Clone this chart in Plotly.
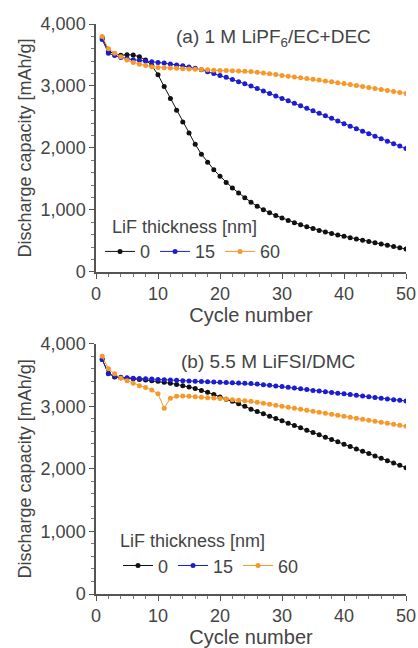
import plotly.graph_objects as go
from plotly.subplots import make_subplots

cycles = list(range(1, 51))
thickness_labels = ["0", "15", "60"]

a_0 = [3780, 3560, 3520, 3495, 3505, 3500, 3470, 3420, 3330, 3180,
       2990, 2800, 2610, 2420, 2240, 2060, 1900, 1770, 1650, 1545,
       1445, 1355, 1275, 1195, 1125, 1060, 1005, 955, 910, 870,
       830, 795, 760, 730, 700, 670, 645, 620, 597, 575,
       552, 530, 510, 490, 470, 450, 430, 410, 390, 370]
a_15 = [3750, 3530, 3490, 3460, 3440, 3425, 3410, 3400, 3390, 3380,
        3370, 3355, 3340, 3325, 3305, 3285, 3260, 3230, 3200, 3170,
        3140, 3105, 3070, 3035, 3000, 2960, 2920, 2880, 2840, 2800,
        2760, 2720, 2680, 2640, 2600, 2560, 2520, 2480, 2435, 2390,
        2350, 2310, 2270, 2230, 2190, 2150, 2110, 2070, 2030, 1990]
a_60 = [3800, 3600, 3530, 3470, 3420, 3380, 3350, 3330, 3310, 3300,
        3295, 3290, 3285, 3280, 3275, 3270, 3265, 3260, 3255, 3250,
        3248, 3245, 3242, 3238, 3235, 3222, 3210, 3197, 3184, 3170,
        3158, 3146, 3134, 3122, 3110, 3096, 3082, 3068, 3054, 3040,
        3024, 3008, 2992, 2976, 2960, 2944, 2928, 2912, 2896, 2880]

b_0 = [3750, 3530, 3470, 3455, 3450, 3440, 3430, 3420, 3410, 3400,
       3385, 3370, 3350, 3330, 3310, 3285, 3255, 3225, 3190, 3150,
       3115, 3080, 3040, 3000, 2955, 2918, 2880, 2843, 2805, 2768,
       2730, 2693, 2656, 2618, 2581, 2544, 2506, 2469, 2432, 2394,
       2357, 2319, 2282, 2245, 2207, 2170, 2132, 2095, 2058, 2020]
b_15 = [3750, 3520, 3480, 3465, 3455, 3450, 3445, 3440, 3435, 3430,
        3425, 3420, 3415, 3410, 3405, 3401, 3397, 3393, 3389, 3385,
        3381, 3377, 3373, 3369, 3365, 3355, 3345, 3335, 3325, 3315,
        3303, 3291, 3279, 3267, 3255, 3244, 3233, 3222, 3211, 3200,
        3188, 3176, 3164, 3152, 3140, 3129, 3118, 3107, 3096, 3085]
b_60 = [3800, 3600, 3520, 3450, 3410, 3370, 3330, 3300, 3260, 3200,
        2970, 3130, 3160, 3165, 3160, 3153, 3146, 3139, 3132, 3125,
        3116, 3107, 3098, 3089, 3080, 3064, 3048, 3032, 3016, 3000,
        2984, 2968, 2952, 2936, 2920, 2904, 2888, 2872, 2856, 2840,
        2824, 2808, 2792, 2776, 2760, 2744, 2728, 2712, 2696, 2680]

colors = ["#111111", "#1c1cd0", "#f7992a"]
FONT = "Liberation Sans, Arial, sans-serif"
GREY = "#444444"
FS = 18

fig = make_subplots(rows=2, cols=1)

for row, series, leg in [(1, [a_0, a_15, a_60], "legend"), (2, [b_0, b_15, b_60], "legend2")]:
    for name, ys, col in zip(thickness_labels, series, colors):
        fig.add_trace(go.Scatter(
            x=cycles, y=ys, name=name, mode="lines+markers",
            line=dict(color=col, width=1),
            marker=dict(color=col, size=5, symbol="circle"),
            legend=leg, showlegend=True,
        ), row=row, col=1)

axis_common = dict(
    showline=True, linecolor="#555555", linewidth=1.5,
    ticks="outside", ticklen=5, tickwidth=1.2, tickcolor="#555555",
    showgrid=False, zeroline=False, automargin=False,
    tickfont=dict(family=FONT, size=FS, color=GREY),
)
for r in (1, 2):
    fig.update_xaxes(range=[0, 50], dtick=10,
                     minor=dict(dtick=2, ticks="outside", ticklen=3, tickcolor="#777777"),
                     title=dict(text="Cycle number", font=dict(family=FONT, size=20, color=GREY), standoff=0),
                     row=r, col=1, **axis_common)
    fig.update_yaxes(range=[0, 4000], dtick=1000, tickformat=",d",
                     minor=dict(dtick=200, ticks="outside", ticklen=3, tickcolor="#777777"),
                     title=dict(text="Discharge capacity [mAh/g]", font=dict(family=FONT, size=FS, color=GREY), standoff=4),
                     row=r, col=1, **axis_common)

fig.update_layout(
    width=418, height=648,
    margin=dict(l=96, r=12, t=24, b=54),
    paper_bgcolor="white", plot_bgcolor="white",
    xaxis=dict(domain=[0, 1], anchor="y"),
    yaxis=dict(domain=[0.565, 1]),
    xaxis2=dict(domain=[0, 1], anchor="y2"),
    yaxis2=dict(domain=[0, 0.439]),
    font=dict(family=FONT, color=GREY),
    legend=dict(orientation="h", x=0.013, y=0.674, xanchor="left", yanchor="top",
                bgcolor="rgba(0,0,0,0)",
                title=dict(text="&nbsp;&nbsp;LiF thickness [nm]", side="top", font=dict(family=FONT, size=FS, color=GREY)),
                font=dict(family=FONT, size=FS, color=GREY)),
    legend2=dict(orientation="h", x=0.071, y=0.123, xanchor="left", yanchor="top",
                 bgcolor="rgba(0,0,0,0)",
                 title=dict(text="LiF thickness [nm]", side="top", font=dict(family=FONT, size=FS, color=GREY)),
                 font=dict(family=FONT, size=FS, color=GREY)),
    showlegend=True,
)

fig.add_annotation(text="(a) 1 M LiPF<sub>6</sub>/EC+DEC", x=0.574, y=1.0, xref="paper", yref="paper",
                   showarrow=False, font=dict(family=FONT, size=19, color=GREY))
fig.add_annotation(text="(b) 5.5 M LiFSI/DMC", x=0.555, y=0.408, xref="paper", yref="paper",
                   showarrow=False, font=dict(family=FONT, size=19, color=GREY))

# remove the default 8px page margin so the 418x648 figure fills the window exactly
fig.write_html("out.html",
               config={"displayModeBar": False},
               post_script="document.documentElement.style.overflow='hidden';"
                           "document.body.style.margin='0';"
                           "document.body.style.overflow='hidden';")
